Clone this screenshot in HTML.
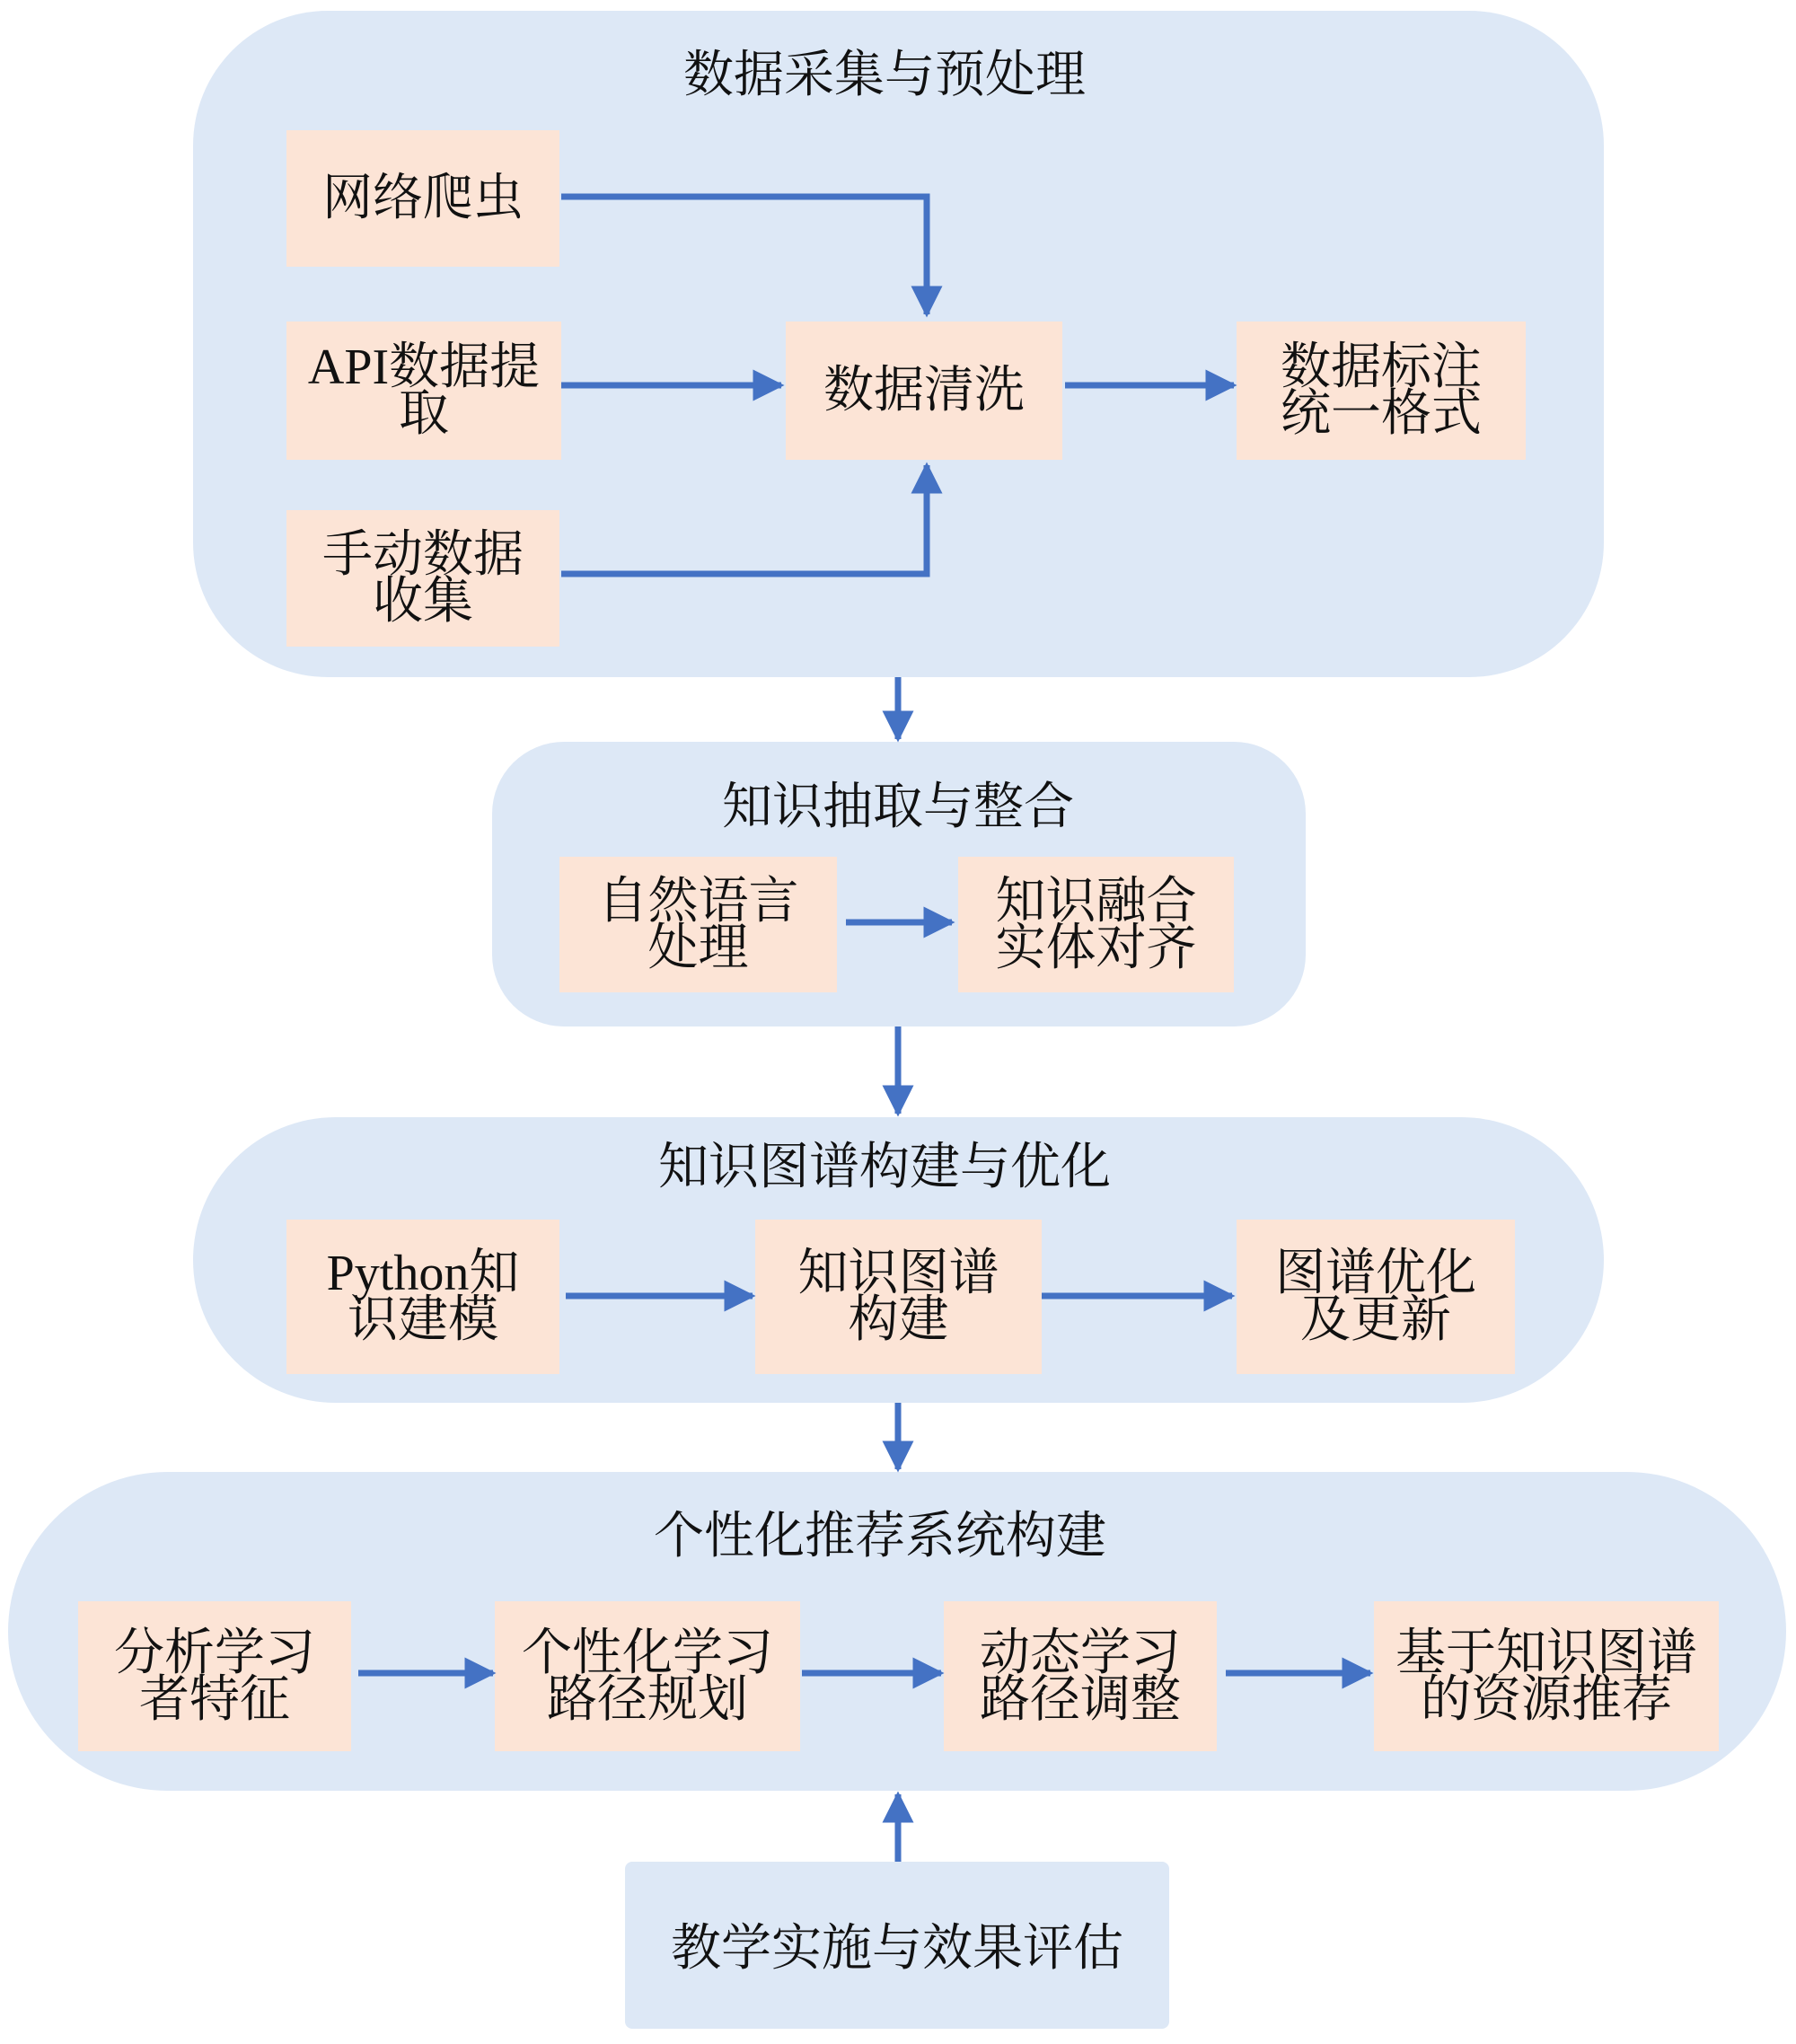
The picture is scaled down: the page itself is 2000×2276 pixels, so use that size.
<!DOCTYPE html>
<html><head><meta charset="utf-8"><style>
html,body{margin:0;padding:0;background:#fff;}
body{width:2000px;height:2276px;position:relative;overflow:hidden;font-family:"Liberation Serif","Noto Serif CJK SC",serif;color:#111;}
.g{position:absolute;background:#dde8f6;}
.t{position:absolute;text-align:center;font-size:56px;line-height:60px;white-space:nowrap;}
.b{position:absolute;background:#fce4d6;display:flex;align-items:center;justify-content:center;text-align:center;font-size:56px;line-height:52px;}
svg{position:absolute;left:0;top:0;}
</style></head><body>
<div class="g" style="left:215px;top:12px;width:1571px;height:742px;border-radius:150px;"></div>
<div class="g" style="left:548px;top:826px;width:906px;height:317px;border-radius:80px;"></div>
<div class="g" style="left:215px;top:1244px;width:1571px;height:318px;border-radius:159px;"></div>
<div class="g" style="left:9px;top:1639px;width:1980px;height:355px;border-radius:178px;"></div>
<div class="g" style="left:696px;top:2073px;width:606px;height:186px;border-radius:8px;"></div>

<div class="t" style="left:0;width:1970px;top:54px;">数据采集与预处理</div>
<div class="t" style="left:0;width:2000px;top:869px;">知识抽取与整合</div>
<div class="t" style="left:0;width:1970px;top:1270px;">知识图谱构建与优化</div>
<div class="t" style="left:0;width:1960px;top:1681px;">个性化推荐系统构建</div>
<div class="t" style="left:696px;width:606px;top:2140px;">教学实施与效果评估</div>

<div class="b" style="left:319px;top:145px;width:304px;height:152px;">网络爬虫</div>
<div class="b" style="left:319px;top:358px;width:306px;height:154px;">API数据提<br>取</div>
<div class="b" style="left:319px;top:568px;width:304px;height:152px;">手动数据<br>收集</div>
<div class="b" style="left:875px;top:358px;width:308px;height:154px;">数据清洗</div>
<div class="b" style="left:1377px;top:358px;width:322px;height:154px;">数据标注<br>统一格式</div>

<div class="b" style="left:623px;top:954px;width:309px;height:151px;">自然语言<br>处理</div>
<div class="b" style="left:1067px;top:954px;width:307px;height:151px;">知识融合<br>实体对齐</div>

<div class="b" style="left:319px;top:1358px;width:304px;height:172px;">Python知<br>识建模</div>
<div class="b" style="left:841px;top:1358px;width:319px;height:172px;">知识图谱<br>构建</div>
<div class="b" style="left:1377px;top:1358px;width:310px;height:172px;">图谱优化<br>及更新</div>

<div class="b" style="left:87px;top:1783px;width:304px;height:167px;">分析学习<br>者特征</div>
<div class="b" style="left:551px;top:1783px;width:340px;height:167px;">个性化学习<br>路径规划</div>
<div class="b" style="left:1051px;top:1783px;width:304px;height:167px;">动态学习<br>路径调整</div>
<div class="b" style="left:1530px;top:1783px;width:384px;height:167px;">基于知识图谱<br>的资源推荐</div>

<svg width="2000" height="2276" viewBox="0 0 2000 2276">
<defs><marker id="a" viewBox="0 0 10 10" refX="9" refY="5" markerWidth="5" markerHeight="5" markerUnits="strokeWidth" orient="auto"><path d="M0,0 L10,5 L0,10 z" fill="#4472c4"/></marker></defs>
<g stroke="#4472c4" stroke-width="7" fill="none" marker-end="url(#a)">
<polyline points="625,219 1032,219 1032,350"/>
<line x1="625" y1="429" x2="870" y2="429"/>
<polyline points="625,639 1032,639 1032,518"/>
<line x1="1186" y1="429" x2="1374" y2="429"/>
<line x1="1000" y1="754" x2="1000" y2="823"/>
<line x1="942" y1="1027" x2="1060" y2="1027"/>
<line x1="1000" y1="1143" x2="1000" y2="1240"/>
<line x1="630" y1="1443" x2="838" y2="1443"/>
<line x1="1160" y1="1443" x2="1372" y2="1443"/>
<line x1="1000" y1="1562" x2="1000" y2="1636"/>
<line x1="399" y1="1863" x2="549" y2="1863"/>
<line x1="893" y1="1863" x2="1048" y2="1863"/>
<line x1="1365" y1="1863" x2="1526" y2="1863"/>
<line x1="1000" y1="2073" x2="1000" y2="1998"/>
</g></svg>
</body></html>
